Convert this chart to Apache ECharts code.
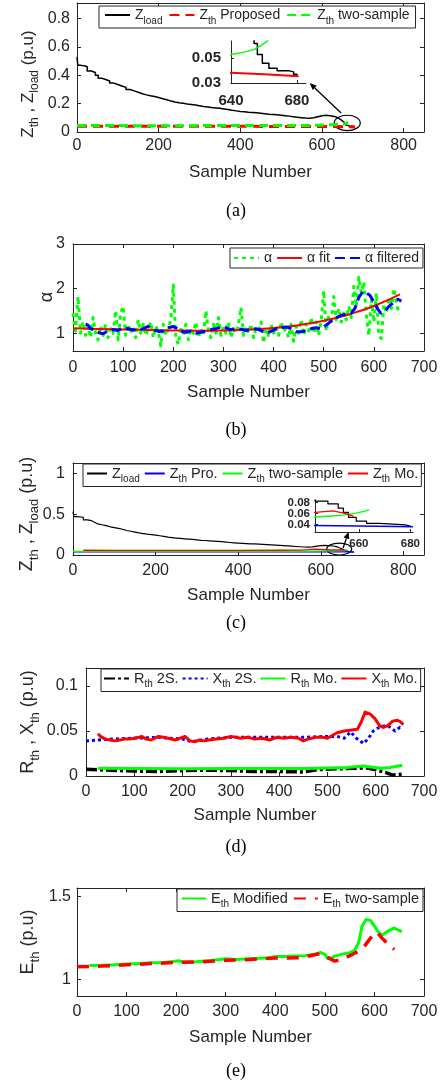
<!DOCTYPE html>
<html><head><meta charset="utf-8">
<script src="https://cdn.jsdelivr.net/npm/echarts@6/dist/echarts.min.js"></script>
<style>html,body{margin:0;padding:0;background:#fff}#c{width:443px;height:1090px}</style>
</head><body><div id="c"></div>
<script>
// ---------------- DATA ----------------
const xTicks800 = [0, 200, 400, 600, 800];
const xTicks700 = [0, 100, 200, 300, 400, 500, 600, 700];
const yTicksA = [0, 0.2, 0.4, 0.6, 0.8];
const yTicksB = [1, 2, 3];
const yTicksC = [0, 0.5, 1];
const yTicksD = [0, 0.05, 0.1];
const yTicksE = [1, 1.5];
const insetATicksX = [640, 680];
const insetATicksY = [0.03, 0.05];
const insetCTicksX = [660, 680];
const insetCTicksY = [0.04, 0.06, 0.08];
const insetCLabelsY1 = [0.04, 0.08];
const insetCLabelsY2 = [0.06];

// Z_load (shared by panels a and c)
const zLoad = [[0,0.53],[2,0.47],[10,0.465],[20,0.46],[25,0.43],[35,0.42],[45,0.40],[52,0.38],[60,0.37],[70,0.36],[80,0.345],[90,0.335],[100,0.325],[110,0.315],[120,0.30],[130,0.29],[140,0.28],[150,0.27],[160,0.262],[170,0.255],[180,0.25],[190,0.243],[200,0.235],[210,0.228],[220,0.218],[230,0.212],[240,0.207],[250,0.203],[260,0.198],[270,0.194],[280,0.19],[290,0.185],[300,0.18],[310,0.177],[320,0.173],[330,0.17],[340,0.167],[350,0.163],[360,0.158],[370,0.153],[380,0.149],[390,0.145],[400,0.142],[410,0.139],[420,0.137],[430,0.135],[440,0.132],[450,0.129],[460,0.126],[470,0.124],[480,0.121],[490,0.118],[500,0.115],[510,0.112],[520,0.108],[530,0.104],[540,0.101],[550,0.098],[560,0.097],[570,0.10],[580,0.108],[590,0.115],[600,0.118],[610,0.115],[620,0.11],[630,0.102],[638,0.092],[643,0.083],[648,0.078],[652,0.07],[654,0.062],[656,0.053],[659,0.046],[663,0.042],[668,0.040],[675,0.039],[678,0.037],[680,0.035]];
// Z_th proposed
const zPro = [[0,0.04],[100,0.04],[200,0.04],[300,0.04],[400,0.04],[500,0.039],[540,0.039],[600,0.0388],[640,0.0382],[660,0.037],[681,0.0355]];
// Z_th two-sample
const zTwoS = [[0,0.045],[100,0.045],[200,0.044],[300,0.045],[400,0.045],[500,0.045],[540,0.045],[580,0.047],[610,0.05],[630,0.052],[640,0.053],[648,0.055],[654,0.057],[659,0.061],[662,0.064],[664,0.067]];
// Z_th modified
const zMo = [[25,0.058],[100,0.056],[200,0.057],[300,0.056],[400,0.057],[500,0.058],[550,0.059],[570,0.065],[585,0.072],[600,0.07],[620,0.064],[635,0.062],[643,0.062],[650,0.065],[655,0.06],[658,0.055]];

// alpha (panel b), one value every alphaStep samples from 0
const alphaStep = 5;
const alphaRaw = [1.45,1.05,1.82,1.0,1.25,0.95,1.15,0.9,1.35,1.0,0.85,1.15,0.95,1.2,0.9,1.1,1.0,1.5,0.85,1.45,
1.6,0.95,1.2,1.0,1.15,0.9,1.3,1.0,1.2,0.95,1.1,1.25,0.9,1.15,1.05,0.72,1.2,0.95,1.1,1.3,
2.08,0.9,0.75,1.15,0.95,1.2,0.85,1.1,1.0,1.25,0.9,1.1,0.95,1.5,1.05,0.9,1.2,1.0,1.35,0.95,
1.15,1.0,1.25,0.9,1.1,1.0,1.2,1.58,0.95,1.15,1.0,1.2,0.9,1.1,1.05,1.25,0.78,1.1,0.95,1.2,
1.0,1.15,0.95,1.25,1.05,1.1,0.9,1.2,0.82,1.15,1.0,1.3,0.95,1.2,1.05,1.35,1.0,1.25,0.95,1.3,
1.95,1.05,1.4,1.2,1.82,1.3,1.55,1.25,1.45,1.3,1.6,1.35,2.05,1.6,2.25,1.9,2.15,1.4,0.95,1.75,
1.25,1.9,0.95,0.88,1.65,1.45,1.8,1.55,2.0,1.7,1.42];
const alphaFit = [[0,1.11],[50,1.095],[100,1.08],[150,1.07],[200,1.06],[250,1.055],[300,1.06],[350,1.08],[400,1.115],[450,1.18],[500,1.28],[550,1.42],[600,1.61],[652,1.87]];
const alphaFilt = [[25,1.2],[30,1.18],[35,1.1],[40,1.08],[45,1.06],[50,1.02],[55,1.0],[60,0.99],[65,1.02],[70,1.05],[80,1.08],[90,1.06],[100,1.12],[110,1.1],[120,1.07],[130,1.08],[140,1.1],[150,1.15],[160,1.08],[170,1.04],[180,1.05],[190,1.12],[200,1.15],[205,1.12],[215,1.04],[225,1.02],[235,1.05],[245,1.0],[255,1.02],[265,1.05],[275,1.08],[285,1.1],[295,1.14],[305,1.12],[315,1.08],[325,1.1],[335,1.09],[345,1.06],[355,1.09],[365,1.1],[375,1.06],[385,1.0],[395,1.04],[405,1.1],[415,1.12],[425,1.14],[435,1.1],[445,1.03],[455,1.03],[465,1.06],[475,1.1],[485,1.12],[495,1.1],[505,1.18],[515,1.27],[525,1.35],[535,1.4],[545,1.42],[555,1.45],[562,1.55],[570,1.8],[578,1.93],[585,1.9],[592,1.85],[600,1.7],[607,1.55],[614,1.45],[622,1.5],[630,1.6],[640,1.7],[648,1.76],[655,1.72]];

// panel d
const rTwoS = [[0,0.0075],[50,0.0065],[100,0.0055],[150,0.005],[200,0.006],[250,0.0065],[300,0.006],[350,0.005],[400,0.005],[450,0.0045],[480,0.007],[520,0.008],[560,0.0085],[580,0.009],[600,0.007],[620,0.004],[635,0.001],[645,0.0015],[655,0.002]];
const xTwoS = [[0,0.039],[25,0.040],[50,0.041],[100,0.042],[150,0.043],[200,0.041],[220,0.038],[250,0.041],[300,0.043],[350,0.043],[400,0.043],[450,0.043],[500,0.044],[520,0.044],[535,0.042],[548,0.049],[560,0.042],[575,0.036],[585,0.042],[595,0.050],[610,0.055],[625,0.056],[640,0.050],[650,0.054],[655,0.052]];
const rMo = [[25,0.0085],[100,0.0082],[200,0.008],[300,0.0082],[400,0.0083],[450,0.0083],[500,0.009],[540,0.0095],[575,0.011],[590,0.010],[610,0.0085],[630,0.0095],[655,0.012]];
const xMo = [[25,0.047],[30,0.044],[40,0.041],[50,0.040],[60,0.039],[70,0.040],[80,0.041],[90,0.041],[100,0.042],[110,0.043],[115,0.044],[125,0.041],[135,0.040],[150,0.044],[160,0.043],[170,0.042],[185,0.040],[195,0.042],[205,0.044],[215,0.039],[225,0.038],[235,0.040],[245,0.039],[255,0.040],[270,0.041],[285,0.042],[300,0.044],[310,0.043],[320,0.042],[335,0.043],[350,0.041],[365,0.042],[380,0.040],[395,0.043],[410,0.042],[425,0.043],[440,0.042],[450,0.039],[460,0.041],[475,0.043],[490,0.043],[500,0.042],[510,0.045],[520,0.048],[535,0.050],[550,0.051],[562,0.052],[570,0.060],[578,0.071],[588,0.069],[598,0.064],[608,0.056],[616,0.054],[625,0.056],[635,0.061],[645,0.062],[652,0.060],[657,0.057]];

// panel e
const eMod = [[25,1.084],[50,1.085],[75,1.088],[100,1.093],[125,1.095],[150,1.10],[175,1.102],[195,1.108],[205,1.112],[215,1.103],[240,1.106],[270,1.113],[300,1.124],[320,1.12],[350,1.124],[380,1.128],[400,1.138],[420,1.138],[440,1.14],[460,1.143],[480,1.152],[492,1.162],[500,1.15],[506,1.125],[512,1.128],[520,1.14],[535,1.152],[550,1.16],[560,1.175],[568,1.22],[575,1.32],[583,1.36],[592,1.355],[600,1.32],[608,1.285],[615,1.265],[622,1.28],[630,1.295],[640,1.31],[645,1.3],[650,1.295],[655,1.285]];
const eTwoS = [[0,1.076],[50,1.08],[100,1.088],[150,1.095],[200,1.102],[250,1.105],[300,1.115],[350,1.12],[400,1.128],[450,1.13],[490,1.155],[500,1.145],[508,1.128],[520,1.11],[535,1.12],[555,1.15],[568,1.17],[580,1.2],[595,1.26],[605,1.285],[615,1.25],[628,1.21],[640,1.18]];

// ---------------- CHART ----------------
const FONT = '"Liberation Sans", Arial, Helvetica, sans-serif';
const SERIF = '"Liberation Serif", "Times New Roman", serif';
const TXT = '#262626';
const alphaData = alphaRaw.map((v, i) => [i * alphaStep, v]);

const grids = [], xAxes = [], yAxes = [], series = [];
const axLine = {show: true, onZero: false, lineStyle: {color: TXT, width: 1}};

function addPanel(g, xr, yr, xt, yt, o) {
  grids.push(g); const gi = grids.length - 1;
  const xi = xAxes.length, yi = yAxes.length;
  const tick = v => ({show: true, inside: true, length: 4, customValues: v, lineStyle: {color: TXT, width: 1}});
  xAxes.push({type: 'value', gridIndex: gi, min: xr[0], max: xr[1], position: 'bottom', axisLine: axLine,
    axisTick: tick(xt), splitLine: {show: false},
    axisLabel: {customValues: xt, margin: o.xm, fontSize: 16, color: TXT, fontFamily: FONT, hideOverlap: false},
    name: 'Sample Number', nameLocation: 'middle', nameGap: o.ng,
    nameTextStyle: {fontSize: 17, color: TXT, fontFamily: FONT}});
  xAxes.push({type: 'value', gridIndex: gi, min: xr[0], max: xr[1], position: 'top', axisLine: axLine,
    axisTick: tick(xt), axisLabel: {show: false}, splitLine: {show: false}});
  yAxes.push({type: 'value', gridIndex: gi, min: yr[0], max: yr[1], position: 'left', axisLine: axLine,
    axisTick: tick(yt), splitLine: {show: false},
    axisLabel: {customValues: yt, margin: o.ym, fontSize: 16, color: TXT, fontFamily: FONT, hideOverlap: false}});
  yAxes.push({type: 'value', gridIndex: gi, min: yr[0], max: yr[1], position: 'right', axisLine: axLine,
    axisTick: tick(yt), axisLabel: {show: false}, splitLine: {show: false}});
  return [xi, yi, gi];
}
function insetLabel(v, o) {
  return {customValues: v, fontSize: o.fs, lineHeight: o.fs, fontWeight: 'bold', color: TXT,
    fontFamily: FONT, hideOverlap: false, showMinLabel: true, showMaxLabel: true};
}
function addInset(g, xr, yr, xt, yt, ylab, o) {
  grids.push(g); const gi = grids.length - 1;
  const xi = xAxes.length, yi = yAxes.length;
  const tick = v => ({show: true, inside: true, length: 3, customValues: v, lineStyle: {color: TXT, width: 1}});
  xAxes.push({type: 'value', gridIndex: gi, min: xr[0], max: xr[1], position: 'bottom', axisLine: axLine,
    axisTick: tick(xt), splitLine: {show: false}, axisLabel: Object.assign(insetLabel(xt, o), {margin: o.xm})});
  yAxes.push({type: 'value', gridIndex: gi, min: yr[0], max: yr[1], position: 'left', axisLine: axLine,
    axisTick: tick(yt), splitLine: {show: false}, axisLabel: Object.assign(insetLabel(ylab, o), {margin: o.ym})});
  return [xi, yi, gi];
}
// extra label-only left axis (used where labels sit too close for one axis)
function addLabelAxis(gi, yr, labs, o) {
  yAxes.push({type: 'value', gridIndex: gi, min: yr[0], max: yr[1], position: 'left', offset: 0,
    axisLine: {show: false}, axisTick: {show: false}, splitLine: {show: false},
    axisLabel: Object.assign(insetLabel(labs, o), {margin: o.ym})});
}
function line(name, data, ax, color, width, type, extra) {
  series.push(Object.assign({type: 'line', name, data, xAxisIndex: ax[0], yAxisIndex: ax[1],
    symbol: 'none', showSymbol: false, animation: false, silent: true, emphasis: {disabled: true},
    lineStyle: {color, width, type: type || 'solid', cap: 'butt', join: 'round'}, itemStyle: {color}}, extra || {}));
  return series.length - 1;
}

const RED = '#ff0000', GRN = '#00ff00', BLU = '#0000ff', BLK = '#000000';

// panel a
const A = addPanel({left: 77, top: 3, width: 347, height: 129}, [0, 850], [0, 0.91], xTicks800, yTicksA, {xm: 6, ng: 32, ym: 7});
const sA0 = line('aLoad', zLoad, A, BLK, 1.5, 'solid', {step: 'end'});
line('aPro', zPro, A, RED, 3, [10, 6]);
line('aTwo', zTwoS, A, GRN, 3, [9, 5]);
const oIA = {xm: 10, ym: 10, fs: 15};
const IA = addInset({left: 231, top: 41, width: 75, height: 42}, [640, 685.5], [0.03, 0.064], insetATicksX, insetATicksY, insetATicksY, oIA);
line('iaLoad', zLoad, IA, BLK, 1.5, 'solid', {step: 'end'});
line('iaPro', zPro, IA, RED, 2);
line('iaTwo', zTwoS, IA, GRN, 1.5);

// panel b
const B = addPanel({left: 73, top: 244, width: 351, height: 107}, [0, 700], [0.6, 3], xTicks700, yTicksB, {xm: 9, ng: 33, ym: 8});
line('bAlpha', alphaData, B, GRN, 3, [4, 4]);
line('bFit', alphaFit, B, RED, 2, 'solid', {smooth: true});
line('bFilt', alphaFilt, B, BLU, 3, [10, 5]);

// panel c
const C = addPanel({left: 73, top: 463, width: 351, height: 92}, [0, 850], [0, 1.125], xTicks800, yTicksC, {xm: 7.5, ng: 32, ym: 8});
const sC0 = line('cLoad', zLoad, C, BLK, 1.2, 'solid', {step: 'end'});
line('cPro', zPro, C, BLU, 1.3);
line('cTwo', zTwoS, C, GRN, 1.3);
line('cMo', zMo, C, RED, 1.3);
const oIC = {xm: 6, ym: 5, fs: 11.5};
const IC = addInset({left: 315, top: 500, width: 98, height: 32}, [643, 681], [0.026, 0.085], insetCTicksX, insetCTicksY, insetCLabelsY1, oIC);
addLabelAxis(IC[2], [0.026, 0.085], insetCLabelsY2, oIC);
line('icLoad', zLoad, IC, BLK, 1.2, 'solid', {step: 'end'});
line('icPro', zPro, IC, BLU, 1.5);
line('icTwo', zTwoS, IC, GRN, 1.3);
line('icMo', zMo, IC, RED, 1.3);

// panel d
const D = addPanel({left: 86, top: 668, width: 338, height: 108}, [0, 700], [0, 0.12], xTicks700, yTicksD, {xm: 8, ng: 31, ym: 8});
line('dR2', rTwoS, D, BLK, 3.5, [11, 3, 3, 3]);
line('dX2', xTwoS, D, BLU, 3, [3, 3]);
line('dRM', rMo, D, GRN, 3);
line('dXM', xMo, D, RED, 3);

// panel e
const E = addPanel({left: 77, top: 888, width: 347, height: 108}, [0, 700], [0.9, 1.55], xTicks700, yTicksE, {xm: 8, ng: 33, ym: 6});
line('eMod', eMod, E, GRN, 3);
line('eTwo', eTwoS, E, RED, 3.5, [12, 9]);

// legends
const legendText = {
  aLoad: '{m|Z}{s|load}', aPro: '{m|Z}{s|th}{m| Proposed}', aTwo: '{m|Z}{s|th}{m| two-sample}',
  bAlpha: '{m|α}', bFit: '{m|α fit}', bFilt: '{m|α filtered}',
  cLoad: '{m|Z}{s|load}', cPro: '{m|Z}{s|th}{m| Pro.}', cTwo: '{m|Z}{s|th}{m| two-sample}', cMo: '{m|Z}{s|th}{m| Mo.}',
  dR2: '{m|R}{s|th}{m| 2S.}', dX2: '{m|X}{s|th}{m| 2S.}', dRM: '{m|R}{s|th}{m| Mo.}', dXM: '{m|X}{s|th}{m| Mo.}',
  eMod: '{m|E}{s|th}{m| Modified}', eTwo: '{m|E}{s|th}{m| two-sample}'
};
const legRich = {
  m: {fontSize: 14, color: TXT, fontFamily: FONT},
  s: {fontSize: 10, color: TXT, fontFamily: FONT, padding: [12, 0, 0, 0]}
};
function legend(left, top, data, gap, iw, pad, fs) {
  const rich = fs ? {m: Object.assign({}, legRich.m, {fontSize: fs}), s: legRich.s} : legRich;
  return {left, top, data, orient: 'horizontal', selectedMode: false, itemGap: gap, itemWidth: iw, itemHeight: 12,
    padding: pad, borderColor: TXT, borderWidth: 1, backgroundColor: '#fff',
    itemStyle: {opacity: 0, borderWidth: 0},
    formatter: n => legendText[n], textStyle: {rich, fontFamily: FONT, fontSize: 14, color: TXT}};
}
const legends = [
  legend(99, 6, ['aLoad', 'aPro', 'aTwo'], 6, 25, [2, 6, 2, 5]),
  legend(230, 248, ['bAlpha', 'bFit', 'bFilt'], 4, 25, [3, 4, 3, 3]),
  legend(83, 464, ['cLoad', 'cPro', 'cTwo', 'cMo'], 4, 20, [2, 3, 2, 3], 14.5),
  legend(101, 669, ['dR2', 'dX2', 'dRM', 'dXM'], 3, 25, [2, 3, 2, 2], 14.5),
  legend(177, 889, ['eMod', 'eTwo'], 5, 24, [2, 4, 2, 4], 14.5)
];

// axis-name texts (rotated) and captions
const nameRich = fs => ({
  m: {fontSize: fs, fill: TXT, fontFamily: FONT},
  s: {fontSize: Math.round(fs * 0.72), fill: TXT, fontFamily: FONT, padding: [14, 0, 0, 0]}
});
function yName(x, y, text, fs) {
  return {type: 'text', x, y, rotation: Math.PI / 2, silent: true,
    style: {text, rich: nameRich(fs), align: 'center', verticalAlign: 'middle', fill: TXT, fontSize: fs, fontFamily: FONT}};
}
function caption(y, text) {
  return {type: 'text', x: 236, y, silent: true,
    style: {text, fill: '#000', fontSize: 18, fontFamily: SERIF, align: 'center', verticalAlign: 'middle'}};
}
const graphics = [
  yName(28, 84, '{m|Z}{s|th}{m| , Z}{s|load}{m| (p.u)}', 17),
  yName(47, 297, '{m|α}', 18),
  yName(27, 514, '{m|Z}{s|th}{m| , Z}{s|load}{m| (p.u)}', 18),
  yName(28, 722, '{m|R}{s|th}{m| , X}{s|th}{m| (p.u)}', 18),
  yName(28, 942, '{m|E}{s|th}{m| (p.u)}', 18),
  caption(211, '(a)'), caption(430, '(b)'), caption(623, '(c)'), caption(847, '(d)'), caption(1071, '(e)')
];

const chart = echarts.init(document.getElementById('c'), null, {renderer: 'canvas', width: 443, height: 1090});
chart.setOption({animation: false, backgroundColor: '#fff', grid: grids, xAxis: xAxes, yAxis: yAxes,
  series, legend: legends, graphic: graphics});

// annotations placed in data coordinates
function P(si, pt) { return chart.convertToPixel({seriesIndex: si}, pt); }
function arrow(p0, p1) {
  const dx = p1[0] - p0[0], dy = p1[1] - p0[1], L = Math.hypot(dx, dy), ux = dx / L, uy = dy / L;
  const hl = 7, hw = 3;
  const b = [p1[0] - ux * hl, p1[1] - uy * hl];
  return [
    {type: 'line', silent: true, shape: {x1: p0[0], y1: p0[1], x2: b[0], y2: b[1]}, style: {stroke: '#000', lineWidth: 1.3}},
    {type: 'polygon', silent: true, shape: {points: [p1, [b[0] - uy * hw, b[1] + ux * hw], [b[0] + uy * hw, b[1] - ux * hw]]}, style: {fill: '#000'}}
  ];
}
const eA = P(sA0, [662, 0.064]);
const eC = P(sC0, [644.6, 0.073]);
const ann = [
  {type: 'ellipse', silent: true, shape: {cx: eA[0], cy: eA[1], rx: 13, ry: 7.7}, style: {fill: 'none', stroke: '#000', lineWidth: 1.2}},
  {type: 'ellipse', silent: true, shape: {cx: eC[0], cy: eC[1], rx: 12.5, ry: 6}, style: {fill: 'none', stroke: '#000', lineWidth: 1.2}}
].concat(arrow(P(sA0, [647, 0.1345]), P(sA0, [570, 0.345])))
 .concat(arrow(P(sC0, [654, 0.085]), P(sC0, [667.6, 0.284])));
chart.setOption({graphic: graphics.concat(ann)});
</script></body></html>
